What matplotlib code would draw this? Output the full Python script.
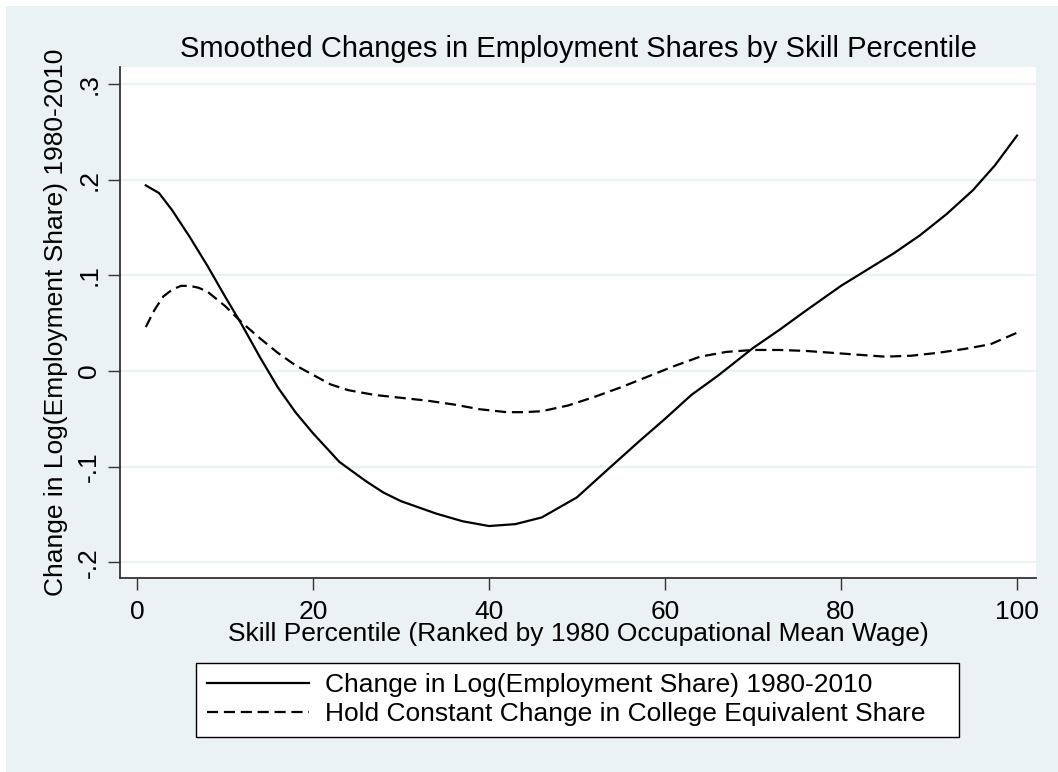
import numpy as np
import matplotlib
matplotlib.use("Agg")
import matplotlib.pyplot as plt
from matplotlib.patches import Rectangle

# smoothed curves
x_solid = [1, 2.5, 4, 6, 8, 10, 12, 14, 16, 18, 20, 23, 26, 28, 30, 34, 37, 40, 43, 46,
           50, 53, 57, 60, 63, 66, 70, 73, 76, 80, 83, 86, 89, 92, 95, 97.5, 100]
y_solid = [0.194, 0.186, 0.168, 0.140, 0.110, 0.078, 0.047, 0.014, -0.017, -0.043, -0.065,
           -0.095, -0.115, -0.127, -0.136, -0.149, -0.157, -0.162, -0.160, -0.153,
           -0.132, -0.107, -0.074, -0.050, -0.025, -0.005, 0.024, 0.043, 0.063, 0.089,
           0.106, 0.123, 0.142, 0.164, 0.189, 0.215, 0.246]

x_dash = [1, 2, 3, 4, 5, 6, 7, 8, 10, 12, 14, 16, 18, 20, 22, 24, 27, 30, 33, 36, 39, 42,
          44, 46, 49, 52, 55, 58, 61, 64, 67, 70, 73, 76, 79, 82, 85, 88, 91, 94, 97, 100]
y_dash = [0.046, 0.064, 0.078, 0.085, 0.089, 0.089, 0.087, 0.083, 0.068, 0.050, 0.034,
          0.019, 0.006, -0.004, -0.014, -0.020, -0.025, -0.028, -0.031, -0.035, -0.040,
          -0.043, -0.043, -0.042, -0.036, -0.027, -0.017, -0.006, 0.005, 0.015, 0.020,
          0.022, 0.022, 0.021, 0.019, 0.017, 0.015, 0.016, 0.019, 0.023, 0.028, 0.040]

x_ticks = [0, 20, 40, 60, 80, 100]
y_ticks = [-0.2, -0.1, 0, 0.1, 0.2, 0.3]
y_ticklabels = ["-.2", "-.1", "0", ".1", ".2", ".3"]

LABEL_SOLID = "Change in Log(Employment Share) 1980-2010"
LABEL_DASH = "Hold Constant Change in College Equivalent Share"

BG = "#eaf2f3"
INK = "#333333"
W, H = 1058, 772
FS = 19

plt.rcParams.update({"font.family": ["Liberation Sans", "DejaVu Sans"], "font.size": FS})

fig = plt.figure(figsize=(W / 100, H / 100), dpi=100, facecolor="white")
fig.patches.append(Rectangle((6 / W, -0.01), 1.01, 1.01 - 6 / H, transform=fig.transFigure,
                             facecolor=BG, edgecolor="none", zorder=-5))

ax = fig.add_axes([120 / W, (H - 578) / H, (1036 - 120) / W, (578 - 67) / H])
ax.set_facecolor("white")
ax.set_xlim(-1.93, 102.16)
ax.set_ylim(-0.2163, 0.3177)

for t in y_ticks:
    ax.axhline(t, color=BG, lw=1.6, zorder=1)

ax.plot(x_solid, y_solid, color="black", lw=1.6, label=LABEL_SOLID, zorder=3)
ax.plot(x_dash, y_dash, color="black", lw=1.6, ls=(0, (5, 2.6)), label=LABEL_DASH, zorder=3)

ax.set_xticks(x_ticks)
ax.set_yticks(y_ticks)
ax.set_yticklabels(y_ticklabels, rotation=90, va="center")
ax.tick_params(axis="both", direction="out", length=8.5, width=1, color=INK, labelsize=FS)
ax.tick_params(axis="x", pad=7)
ax.tick_params(axis="y", pad=5)
for s in ["top", "right"]:
    ax.spines[s].set_visible(False)
for s in ["left", "bottom"]:
    ax.spines[s].set_color(INK)
    ax.spines[s].set_linewidth(1.3)

ax.set_title("Smoothed Changes in Employment Shares by Skill Percentile", fontsize=21, pad=7)
ax.set_xlabel("Skill Percentile (Ranked by 1980 Occupational Mean Wage)", fontsize=FS,
              labelpad=-1)
ax.set_ylabel("Change in Log(Employment Share) 1980-2010", fontsize=FS, labelpad=7)

leg = fig.legend(loc="lower left", mode="expand",
                 bbox_to_anchor=(196 / W, (H - 737) / H, (959 - 196) / W, (737 - 663) / H),
                 frameon=True, fancybox=False, edgecolor="black", facecolor="white",
                 framealpha=1, fontsize=FS, handlelength=3.9, handletextpad=0.6,
                 labelspacing=0.2, borderpad=0.4, borderaxespad=0)
leg.get_frame().set_linewidth(1)

fig.savefig("out.png", dpi=100, facecolor=fig.get_facecolor())
